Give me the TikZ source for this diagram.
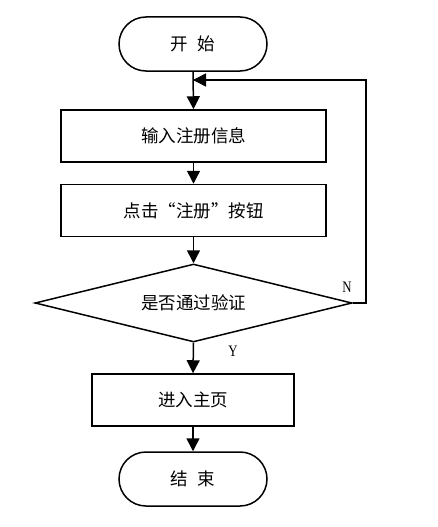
\documentclass[tikz,border=0pt]{standalone}
\usepackage{fontspec}
\newfontfamily\cjk{Noto Sans CJK SC}
\newfontfamily\latinf{Liberation Serif}
\usetikzlibrary{shapes.geometric,arrows.meta}
\begin{document}
\begin{tikzpicture}[x=1pt,y=-1pt,
  every node/.style={font=\cjk\fontsize{17.5}{20}\selectfont},
  term/.style={draw,line width=1.5pt,rounded corners=27pt,minimum width=148pt,minimum height=54pt,inner sep=0pt},
  procbox/.style={draw,line width=1.5pt,minimum height=52pt,inner sep=0pt},
  decis/.style={draw,line width=1.5pt,diamond,aspect=4.06,minimum width=317pt,minimum height=78pt,inner sep=0pt},
  conn/.style={line width=1.5pt,-{Triangle[length=13pt,width=13pt]}},
  lbl/.style={font=\latinf\fontsize{16}{18}\selectfont,xscale=0.8}]
\useasboundingbox (0,0) rectangle (437,527);
\node[term] (start) at (193,44) {开\,\, 始};
\node[procbox,minimum width=265pt] (b1) at (193.5,136) {输入注册信息};
\node[procbox,minimum width=265pt] (b2) at (193.5,210.5) {点击“注册”按钮};
\node[decis] (d) at (193.5,303) {是否通过验证};
\node[procbox,minimum width=202pt] (b3) at (193,400) {进入主页};
\node[term] (end) at (193,479) {结\,\, 束};
\coordinate (m) at (193,80);
\coordinate (r1) at (366,303);
\coordinate (r2) at (366,80);
\draw[conn] (start.south) -- (b1.north);
\draw[conn] (b1.south) -- (b2.north);
\draw[conn] (b2.south) -- (d.north);
\draw[conn] (d.south) -- (b3.north);
\draw[conn] (b3.south) -- (end.north);
\draw[conn] (d.east) -- (r1) -- (r2) -- (m);
\node[lbl] (n) at (347,287) {N};
\node[lbl] (y) at (233,351) {Y};
\end{tikzpicture}
\end{document}
